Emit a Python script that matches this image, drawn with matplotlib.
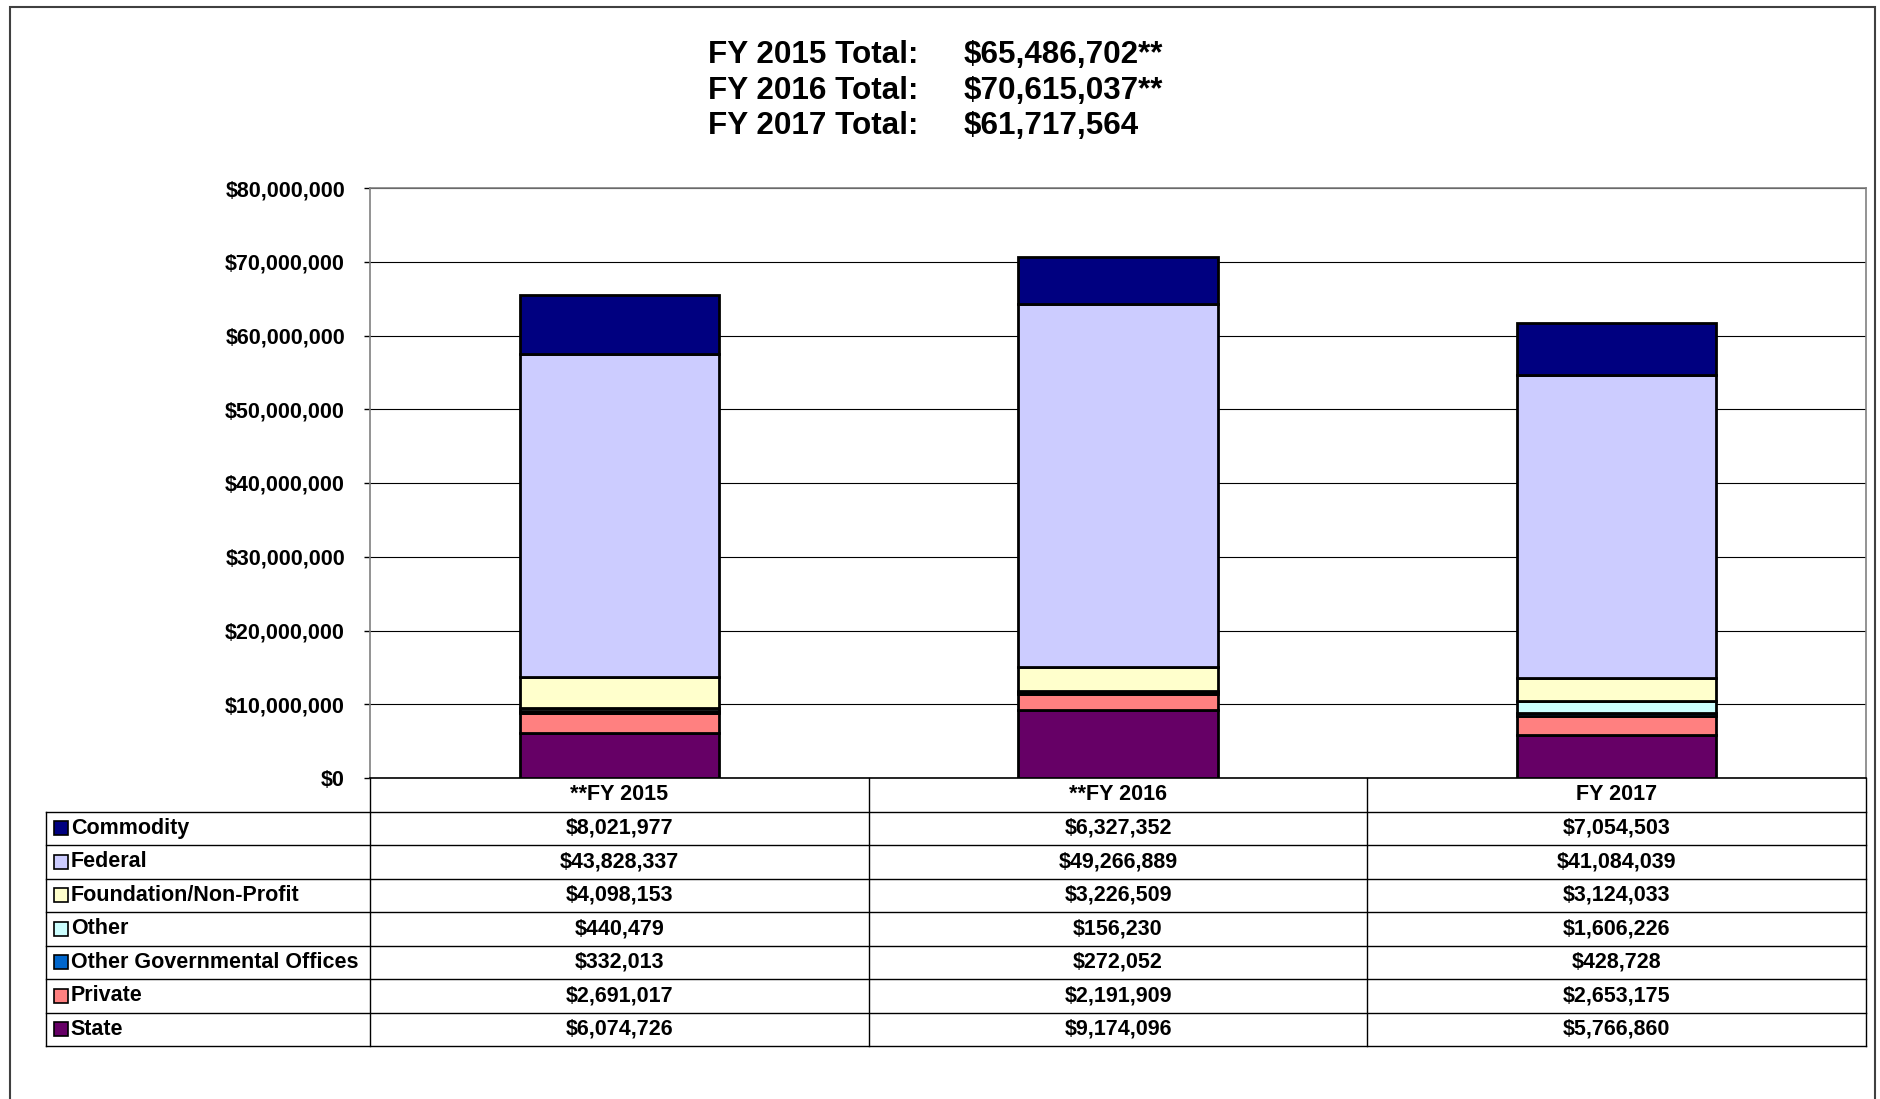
import numpy as np
import matplotlib.pyplot as plt
from matplotlib.patches import Rectangle
from matplotlib.lines import Line2D

plt.rcParams['font.family'] = ['Liberation Sans', 'DejaVu Sans']
plt.rcParams['font.weight'] = 'bold'

# ---- data ----
years = ["**FY 2015", "**FY 2016", "FY 2017"]
sources = ["Commodity", "Federal", "Foundation/Non-Profit", "Other",
           "Other Governmental Offices", "Private", "State"]
commodity = [8021977, 6327352, 7054503]
federal = [43828337, 49266889, 41084039]
foundation = [4098153, 3226509, 3124033]
other = [440479, 156230, 1606226]
other_gov = [332013, 272052, 428728]
private = [2691017, 2191909, 2653175]
state = [6074726, 9174096, 5766860]
totals_lbl = ["FY 2015 Total:", "FY 2016 Total:", "FY 2017 Total:"]
totals_val = ["$65,486,702**", "$70,615,037**", "$61,717,564"]

series = [commodity, federal, foundation, other, other_gov, private, state]
colors = ["#000080", "#CCCCFF", "#FFFFCC", "#CCFFFF", "#0066CC", "#FF8080", "#660066"]

FS = 15.5

W, H = 1881, 1099
fig = plt.figure(figsize=(W / 100, H / 100), dpi=100)

def fx(px):
    return px / W

def fy(py):
    return 1 - py / H

# outer chart border
fig.add_artist(Rectangle((fx(10), fy(1110)), fx(1875) - fx(10), fy(7) - fy(1110),
                         transform=fig.transFigure, fill=False, ec="#404040", lw=1.5))

# title block
for i in range(3):
    yy = fy(55 + i * 35.5)
    fig.text(fx(708), yy, totals_lbl[i], fontsize=22.6, fontweight='bold', va='center', ha='left')
    fig.text(fx(964), yy, totals_val[i], fontsize=22.6, fontweight='bold', va='center', ha='left')

# ---- main bar chart ----
L, R, T, B = 370, 1866, 188, 778
ax = fig.add_axes([fx(L), fy(B), fx(R) - fx(L), fy(T) - fy(B)])
x = np.arange(len(years))
bottom = np.zeros(len(years))
for vals, c in reversed(list(zip(series, colors))):
    ax.bar(x, vals, 0.4, bottom=bottom, color=c, edgecolor='black', linewidth=2, zorder=3)
    bottom += np.array(vals)

ax.set_xlim(-0.5, 2.5)
ax.set_ylim(0, 80000000)
ax.set_yticks(np.arange(0, 80000001, 10000000))
ax.set_yticklabels(["${:,.0f}".format(v) for v in ax.get_yticks()])
ax.tick_params(axis='y', labelsize=FS, length=4, width=1, pad=14)
ax.set_xticks([])
ax.yaxis.grid(True, color='black', lw=0.8, zorder=0)
for s in ["left", "top", "right"]:
    ax.spines[s].set_color('#808080')
    ax.spines[s].set_linewidth(1.2)
ax.spines["bottom"].set_color('black')
ax.spines["bottom"].set_linewidth(1.2)
for lab in ax.get_yticklabels():
    lab.set_fontweight('bold')

# ---- data table ----
TL, TB = 46, 1046
tax = fig.add_axes([fx(TL), fy(TB), fx(R) - fx(TL), fy(B) - fy(TB)])
lab_w = (L - TL) / ((R - L) / 3)
tax.set_xlim(-0.5 - lab_w, 2.5)
tax.set_ylim(8, 0)
tax.axis('off')

nrow = len(sources) + 1
for r in range(1, nrow + 1):
    tax.add_line(Line2D([-0.5 - lab_w, 2.5], [r, r], color='black', lw=1, clip_on=False))
for xv in [-0.5, 0.5, 1.5, 2.5]:
    tax.add_line(Line2D([xv, xv], [0, nrow], color='black', lw=1, clip_on=False))
tax.add_line(Line2D([-0.5 - lab_w, -0.5 - lab_w], [1, nrow], color='black', lw=1, clip_on=False))

for j, yr in enumerate(years):
    tax.text(j, 0.5, yr, ha='center', va='center', fontsize=FS, fontweight='bold')

mk_x = -0.5 - lab_w + 0.03
for i, (name, vals, c) in enumerate(zip(sources, series, colors)):
    yy = i + 1.5
    tax.plot(mk_x, yy, marker='s', ms=9.5, mfc=c, mec='black', mew=1.2, clip_on=False)
    tax.text(mk_x + 0.02, yy, name, ha='left', va='center', fontsize=FS, fontweight='bold')
    for j, v in enumerate(vals):
        tax.text(j, yy, "${:,.0f}".format(v), ha='center', va='center', fontsize=FS, fontweight='bold')

fig.savefig("out.png", dpi=100)
